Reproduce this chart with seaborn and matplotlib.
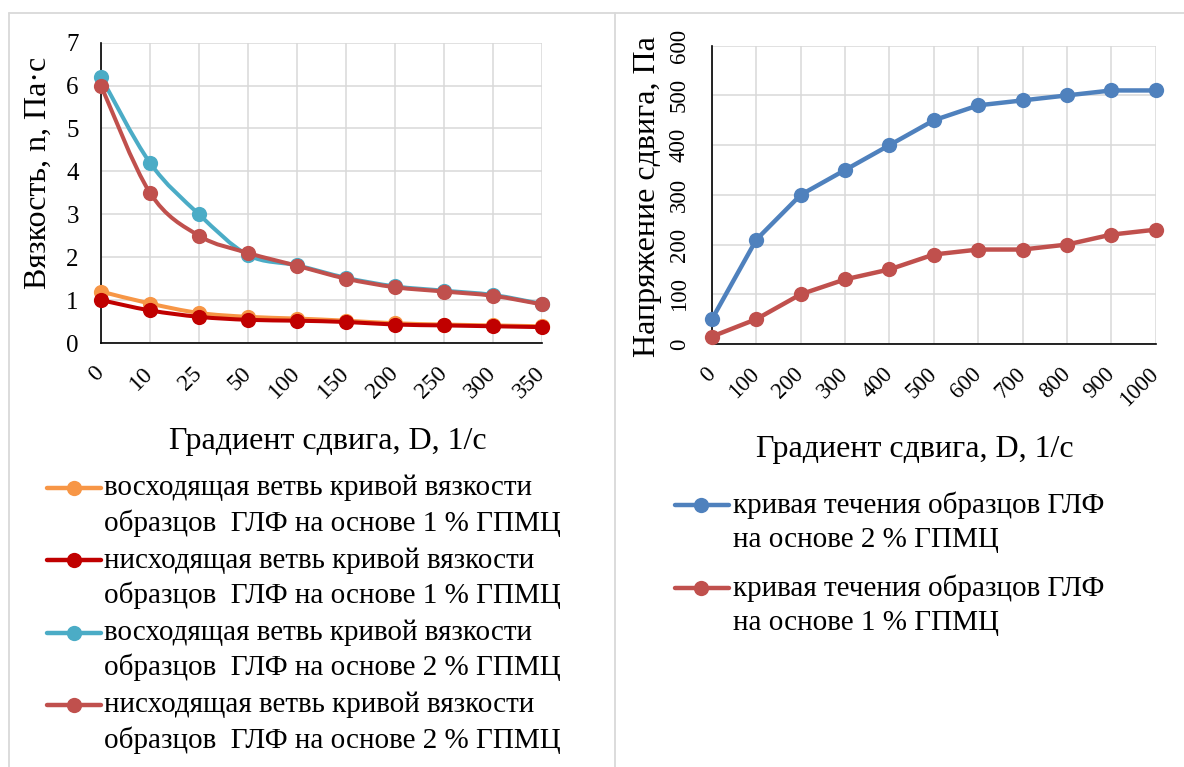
import numpy as np
import pandas as pd
import matplotlib
matplotlib.use("Agg")
import matplotlib.pyplot as plt
import matplotlib.transforms as mtransforms
from matplotlib.path import Path
from matplotlib.patches import PathPatch
from matplotlib.lines import Line2D
import seaborn as sns

# ---- viscosity curves (left panel) ----
shear_labels = ["0", "10", "25", "50", "100", "150", "200", "250", "300", "350"]
visc_up_1 = [1.2, 0.92, 0.7, 0.61, 0.57, 0.52, 0.46, 0.43, 0.41, 0.39]
visc_down_1 = [1.0, 0.76, 0.61, 0.54, 0.52, 0.49, 0.43, 0.41, 0.39, 0.37]
visc_up_2 = [6.2, 4.2, 3.0, 2.05, 1.81, 1.52, 1.32, 1.22, 1.12, 0.91]
visc_down_2 = [6.0, 3.5, 2.5, 2.1, 1.8, 1.5, 1.3, 1.2, 1.1, 0.9]
visc_names = [
    "восходящая ветвь кривой вязкости\nобразцов  ГЛФ на основе 1 % ГПМЦ",
    "нисходящая ветвь кривой вязкости\nобразцов  ГЛФ на основе 1 % ГПМЦ",
    "восходящая ветвь кривой вязкости\nобразцов  ГЛФ на основе 2 % ГПМЦ",
    "нисходящая ветвь кривой вязкости\nобразцов  ГЛФ на основе 2 % ГПМЦ",
]
visc_colors = ["#F79646", "#C00000", "#4BACC6", "#C0504D"]

# ---- flow curves (right panel) ----
rate_labels = ["0", "100", "200", "300", "400", "500", "600", "700", "800", "900", "1000"]
stress_2 = [50, 210, 300, 350, 400, 450, 480, 490, 500, 510, 510]
stress_1 = [15, 50, 100, 130, 150, 180, 190, 190, 200, 220, 230]
flow_names = [
    "кривая течения образцов ГЛФ\nна основе 2 % ГПМЦ",
    "кривая течения образцов ГЛФ\nна основе 1 % ГПМЦ",
]
flow_colors = ["#4F81BD", "#C0504D"]

sns.set_theme(style="white")
plt.rcParams["font.family"] = ["Liberation Serif", "DejaVu Serif"]

W, H = 1184, 767
fig = plt.figure(figsize=(W / 100, H / 100), dpi=100)
fig.patch.set_facecolor("white")


def fx(x):
    return x / W


def fy(y):
    return 1 - y / H


def add_axes_px(x0, y0, x1, y1):
    return fig.add_axes([fx(x0), fy(y1), fx(x1) - fx(x0), fy(y0) - fy(y1)])


GRID = "#D9D9D9"
TITLE_SIZE = 23
LEGEND_SIZE = 21

# panel frames
for xs, ys in [((9, W), (13.3, 13.3)), ((9, 9), (13.3, H)), ((615, 615), (13.3, H))]:
    fig.add_artist(Line2D([fx(v) for v in xs], [fy(v) for v in ys],
                          color=GRID, lw=1.3, transform=fig.transFigure))


def style_axes(ax, n, ymax, ystep):
    ax.set_xlim(0, n - 1)
    ax.set_ylim(0, ymax)
    ax.set_xticks(range(n))
    ax.set_yticks(np.arange(0, ymax + ystep / 2, ystep))
    ax.grid(True, color=GRID, lw=1.1)
    ax.set_axisbelow(True)
    for s in ("top", "right"):
        ax.spines[s].set_visible(False)
    for s in ("left", "bottom"):
        ax.spines[s].set_color("black")
        ax.spines[s].set_linewidth(1.2)
        ax.spines[s].set_zorder(2.5)
    ax.tick_params(length=0)
    ax.set_xlabel("")
    ax.set_ylabel("")
    ax.set_facecolor("white")


def smooth_path(values):
    pts = np.column_stack([np.arange(len(values)), np.asarray(values, float)])
    n = len(pts)
    verts = [pts[0]]
    codes = [Path.MOVETO]
    for i in range(n - 1):
        p0, p1 = pts[max(i - 1, 0)], pts[i]
        p2, p3 = pts[i + 1], pts[min(i + 2, n - 1)]
        verts += [p1 + (p2 - p0) / 6, p2 - (p3 - p1) / 6, p2]
        codes += [Path.CURVE4] * 3
    return Path(verts, codes)


def rotate_xticks(ax, labels, size, dx, dy):
    ax.tick_params(axis="x", pad=0)
    ax.set_xticklabels(labels, rotation=45, ha="right", va="center",
                       rotation_mode="anchor", fontsize=size, color="black")
    off = mtransforms.ScaledTranslation(dx / 100, -dy / 100, fig.dpi_scale_trans)
    for lab in ax.get_xticklabels():
        lab.set_transform(lab.get_transform() + off)


# ---------------- left panel ----------------
axL = add_axes_px(101, 42.7, 542, 343)
visc_series = [visc_up_1, visc_down_1, visc_up_2, visc_down_2]
for k, (vals, col) in enumerate(zip(visc_series, visc_colors)):
    df = pd.DataFrame({"x": np.arange(len(vals)), "y": vals})
    axL.add_patch(PathPatch(smooth_path(vals), facecolor="none", edgecolor=col,
                            lw=2.9, zorder=3 + k, clip_on=False, capstyle="round"))
    sns.scatterplot(data=df, x="x", y="y", ax=axL, color=col, s=120,
                    edgecolor=col, linewidth=0, zorder=3 + k, clip_on=False)
style_axes(axL, len(shear_labels), 7, 1)
axL.tick_params(axis="y", labelsize=18, pad=16, labelcolor="black")
rotate_xticks(axL, shear_labels, 17, 0, 27)

fig.text(fx(38), fy(173), "Вязкость, n, Па·с", rotation=90, ha="center",
         va="center", fontsize=TITLE_SIZE, color="black")
fig.text(fx(328), fy(442), "Градиент сдвига, D, 1/с", ha="center",
         va="center", fontsize=TITLE_SIZE, color="black")

# ---------------- right panel ----------------
axR = add_axes_px(712, 45.7, 1155.7, 344)
for vals, col in zip([stress_2, stress_1], flow_colors):
    df = pd.DataFrame({"x": np.arange(len(vals)), "y": vals})
    sns.lineplot(data=df, x="x", y="y", ax=axR, color=col, lw=3.2, marker="o",
                 markersize=11, markeredgecolor=col, markeredgewidth=0,
                 clip_on=False, zorder=3)
style_axes(axR, len(rate_labels), 600, 100)
axR.tick_params(axis="y", pad=16)
axR.set_yticklabels([str(v) for v in range(0, 601, 100)], rotation=90,
                    va="center", fontsize=16.5, color="black")
rotate_xticks(axR, rate_labels, 16.5, 0, 27)

fig.text(fx(648), fy(197), "Напряжение сдвига, Па", rotation=90, ha="center",
         va="center", fontsize=TITLE_SIZE, color="black")
fig.text(fx(915), fy(450), "Градиент сдвига, D, 1/с", ha="center",
         va="center", fontsize=TITLE_SIZE, color="black")


# ---------------- legends ----------------
def legend_entry(x0, x1, xm, xt, y, label, col, gap=35):
    fig.add_artist(Line2D([fx(x0), fx(x1)], [fy(y), fy(y)], color=col, lw=3.2,
                          transform=fig.transFigure))
    fig.add_artist(Line2D([fx(xm)], [fy(y)], color=col, marker="o", markersize=11,
                          markeredgewidth=0, transform=fig.transFigure))
    for j, line in enumerate(label.split("\n")):
        fig.text(fx(xt), fy(y + j * gap), line, ha="left", va="center",
                 fontsize=LEGEND_SIZE, color="black")


for k, (name, col) in enumerate(zip(visc_names, visc_colors)):
    legend_entry(47, 101, 74, 104, 488 + k * 72.3, name, col)

for k, (name, col) in enumerate(zip(flow_names, flow_colors)):
    legend_entry(675, 729, 701, 733, 505 + k * 83, name, col)

fig.savefig("out.png", dpi=100, facecolor="white")
